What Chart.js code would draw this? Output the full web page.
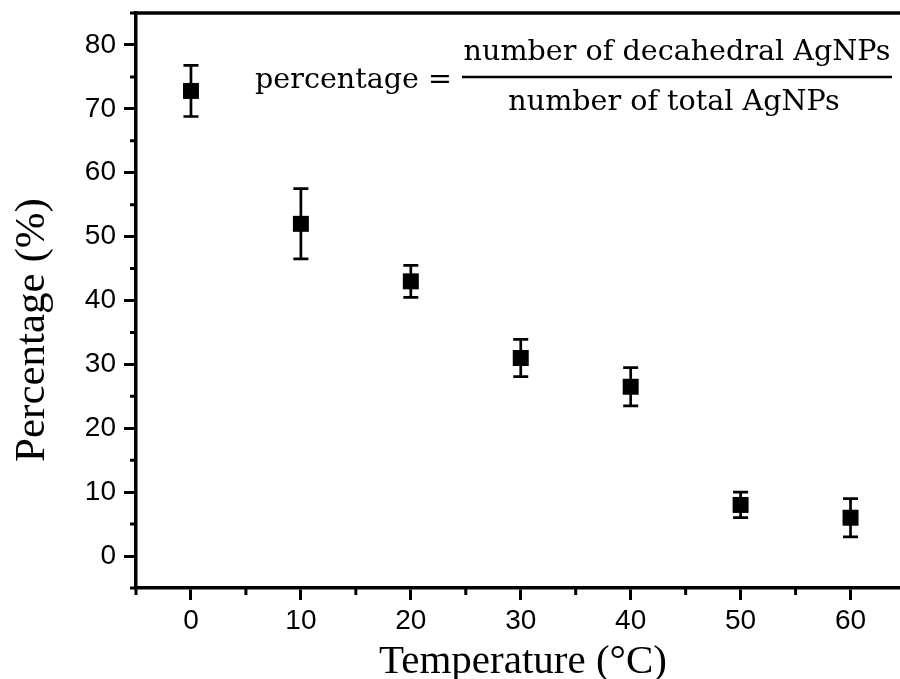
<!DOCTYPE html>
<html>
<head>
<meta charset="utf-8">
<script src="https://cdn.jsdelivr.net/npm/chart.js@4.4.1/dist/chart.umd.min.js"></script>
<style>
  html, body { margin: 0; padding: 0; background: #fff; overflow: hidden; }
  canvas { display: block; }
</style>
</head>
<body>
<canvas id="chart" width="900" height="679"></canvas>
<script>
// data
const temperatures = [0, 10, 20, 30, 40, 50, 60];
const percentages = [72.8, 52, 43, 31, 26.5, 8, 6];
const errors = [4, 5.5, 2.5, 2.9, 3, 2, 3];

const xTicks = [0, 10, 20, 30, 40, 50, 60];
const xMinorTicks = [-5, 5, 15, 25, 35, 45, 55];
const yTicks = [0, 10, 20, 30, 40, 50, 60, 70, 80];
const yMinorTicks = [-5, 5, 15, 25, 35, 45, 55, 65, 75, 85];

const xTitle = "Temperature (°C)";
const yTitle = "Percentage (%)";
const formulaLeft = "percentage =";
const formulaTop = "number of decahedral AgNPs";
const formulaBottom = "number of total AgNPs";

const black = "#000";

function fitFont(ctx, text, width, family) {
  ctx.font = `100px ${family}`;
  return 100 * width / ctx.measureText(text).width;
}

function noPadding(scale) {
  scale.paddingLeft = 0;
  scale.paddingRight = 0;
  scale.paddingTop = 0;
  scale.paddingBottom = 0;
}

const decorations = {
  id: "decorations",
  beforeDatasetsDraw(chart) {
    const { ctx, scales: { x, y } } = chart;
    ctx.save();
    ctx.strokeStyle = black;
    ctx.lineWidth = 2.7;
    temperatures.forEach((t, i) => {
      const px = x.getPixelForValue(t);
      const top = y.getPixelForValue(percentages[i] + errors[i]);
      const bottom = y.getPixelForValue(percentages[i] - errors[i]);
      ctx.beginPath();
      ctx.moveTo(px, top); ctx.lineTo(px, bottom);
      ctx.moveTo(px - 7.5, top); ctx.lineTo(px + 7.5, top);
      ctx.moveTo(px - 7.5, bottom); ctx.lineTo(px + 7.5, bottom);
      ctx.stroke();
    });
    ctx.restore();
  },
  afterDraw(chart) {
    const { ctx, chartArea: area, scales: { x, y } } = chart;
    ctx.save();
    ctx.strokeStyle = black;
    ctx.fillStyle = black;

    // top frame line
    ctx.lineWidth = 3.5;
    ctx.beginPath();
    ctx.moveTo(area.left - 1.75, area.top);
    ctx.lineTo(area.right, area.top);
    ctx.stroke();

    // minor ticks
    ctx.lineWidth = 3;
    ctx.beginPath();
    xMinorTicks.forEach(v => {
      const px = x.getPixelForValue(v);
      ctx.moveTo(px, area.bottom); ctx.lineTo(px, area.bottom + 7);
    });
    yMinorTicks.forEach(v => {
      const py = y.getPixelForValue(v);
      ctx.moveTo(area.left - 6, py); ctx.lineTo(area.left, py);
    });
    ctx.stroke();

    // axis titles
    ctx.font = "41px 'Liberation Serif'";
    ctx.textAlign = "center";
    ctx.textBaseline = "alphabetic";
    ctx.fillText(xTitle, 523, 673);
    ctx.save();
    ctx.translate(44, 330);
    ctx.rotate(-Math.PI / 2);
    ctx.font = "43px 'Liberation Serif'";
    ctx.fillText(yTitle, 0, 0);
    ctx.restore();

    // formula
    const family = "'DejaVu Serif'";
    const size = fitFont(ctx, formulaTop, 427, family);
    ctx.font = `${size}px ${family}`;
    ctx.textAlign = "left";
    ctx.fillText(formulaLeft, 255, 88);
    ctx.textAlign = "center";
    ctx.fillText(formulaTop, 677, 60);
    ctx.fillText(formulaBottom, 674, 110);
    ctx.lineWidth = 2.5;
    ctx.beginPath();
    ctx.moveTo(462, 77); ctx.lineTo(892, 77);
    ctx.stroke();
    ctx.restore();
  }
};

new Chart(document.getElementById("chart"), {
  type: "scatter",
  data: {
    datasets: [{
      label: "Percentage",
      data: temperatures.map((t, i) => ({ x: t, y: percentages[i] })),
      pointStyle: "rect",
      pointRadius: 11.3,
      pointHoverRadius: 11.3,
      backgroundColor: black,
      borderColor: black,
      borderWidth: 0
    }]
  },
  options: {
    responsive: false,
    animation: false,
    events: [],
    layout: { autoPadding: false, padding: { left: 0, top: 13, right: 0, bottom: 0 } },
    plugins: { legend: { display: false }, tooltip: { enabled: false } },
    scales: {
      x: {
        type: "linear",
        min: -5,
        max: 64.5,
        afterBuildTicks: scale => { scale.ticks = xTicks.map(value => ({ value })); },
        afterFit: scale => { scale.height = 91; noPadding(scale); },
        border: { color: black, width: 3.5 },
        grid: { drawOnChartArea: false, tickLength: 12, tickWidth: 3, tickColor: black },
        ticks: { color: black, padding: 4, maxRotation: 0, font: { family: "'Liberation Sans'", size: 28 } }
      },
      y: {
        type: "linear",
        min: -5,
        max: 85,
        afterBuildTicks: scale => { scale.ticks = yTicks.map(value => ({ value })); },
        afterFit: scale => { scale.width = 136; noPadding(scale); },
        border: { color: black, width: 3.5 },
        grid: { drawOnChartArea: false, tickLength: 12, tickWidth: 3, tickColor: black },
        ticks: { color: black, padding: 8, font: { family: "'Liberation Sans'", size: 28 } }
      }
    }
  },
  plugins: [decorations]
});
</script>
</body>
</html>
